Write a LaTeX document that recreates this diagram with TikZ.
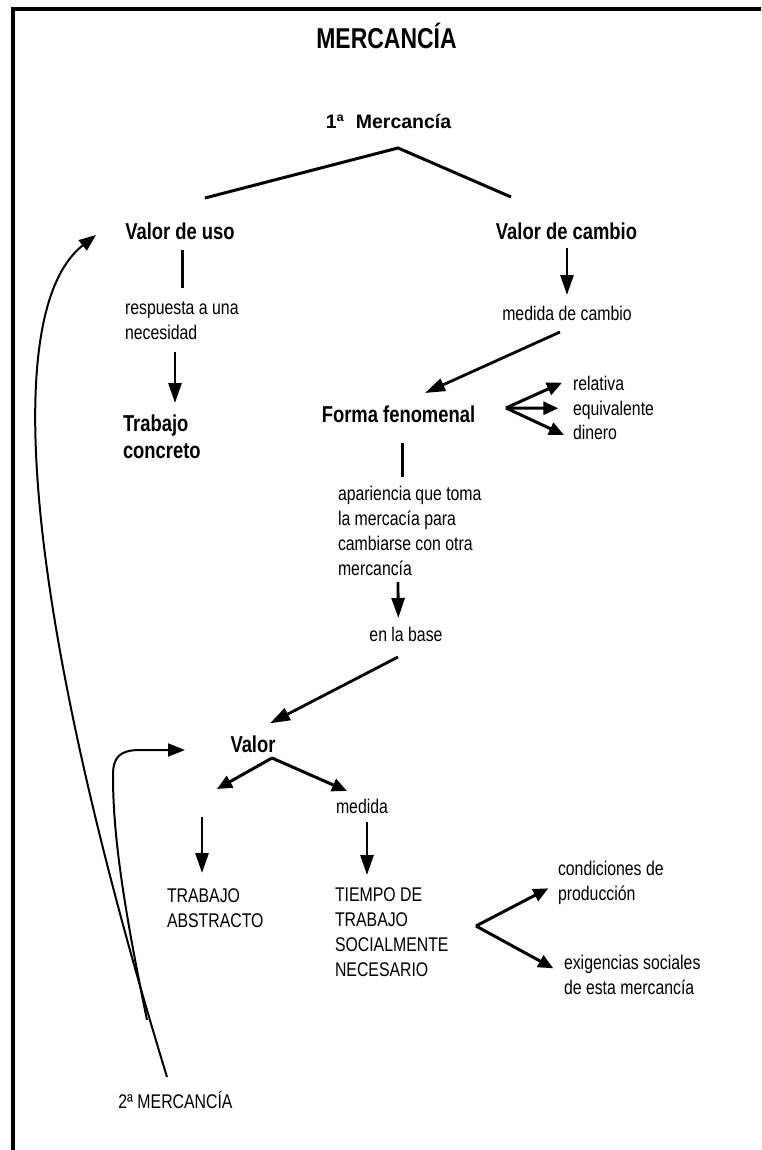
\documentclass[tikz,border=0pt]{standalone}
\usepackage{fontspec}
\setmainfont[FakeStretch=0.8]{Liberation Sans}
\newfontfamily\firstfont{Liberation Sans}
\usetikzlibrary{arrows.meta,positioning,calc}

\begin{document}
\begin{tikzpicture}[x=1pt, y=1pt,
  every node/.style={inner sep=0pt, outer sep=0pt},
  big/.style={anchor=base, font=\fontsize{28.7}{32}\selectfont\bfseries},
  head/.style={anchor=base, font=\fontsize{23}{26.7}\selectfont\bfseries},
  txt/.style={anchor=base, font=\fontsize{19.8}{24.8}\selectfont},
  block/.style={txt, anchor=base west, align=left},
  link/.style={line width=3pt},
  arrow/.style={line width=2.8pt, -{Triangle[length=20pt,width=13pt]}},
  fork/.style={line width=3pt, -{Triangle[length=15pt,width=13pt]}},
  curve/.style={line width=2pt, -{Triangle[length=17pt,width=13pt]}}]
\fill[white] (0,0) rectangle (761,-1150);
\useasboundingbox (0,0) rectangle (761,-1150);
\draw[line width=4.3pt] (12.7,-1150) -- (12.7,-8.8) -- (761,-8.8);

\node[big] (mercancia) at (386.5,-48.3) {MERCANCÍA};
\node[anchor=base, font=\firstfont\fontsize{19.5}{23}\selectfont\bfseries] (m_1) at (388.5,-128.3) {1ª\hspace{12pt}Mercancía};
\node[head] (v_uso) at (180,-239.3) {Valor de uso};
\node[head] (v_cambio) at (566.5,-239.3) {Valor de cambio};
\node[block] (resp) at (125,-339) {respuesta a una\\necesidad};
\node[head, anchor=base west, align=left] (t_concreto) at (123,-458.3) {Trabajo\\concreto};
\node[txt] (med_cambio) at (567,-320) {medida de cambio};
\node[head] (forma) at (398.5,-422.7) {Forma fenomenal};
\node[txt, anchor=base west] (rel) at (573,-390) {relativa};
\node[below=25pt of rel.base west, txt, anchor=base west] (equiv) {equivalente};
\node[below=24.3pt of equiv.base west, txt, anchor=base west] (dinero) {dinero};
\node[block] (apar) at (338,-575) {apariencia que toma\\la mercacía para\\cambiarse con otra\\mercancía};
\node[txt] (en_base) at (406,-641.7) {en la base};
\node[head] (valor) at (253,-752.7) {Valor};
\node[txt] (medida) at (362,-813.3) {medida};
\node[block] (t_abs) at (167,-927.3) {TRABAJO\\ABSTRACTO};
\node[block] (tiempo) at (335,-976) {TIEMPO DE\\TRABAJO\\SOCIALMENTE\\NECESARIO};
\node[block] (cond) at (558,-900.7) {condiciones de\\producción};
\node[block] (exig) at (564,-994) {exigencias sociales\\de esta mercancía};
\node[txt] (m_2) at (175.5,-1108.3) {2ª MERCANCÍA};

\coordinate (split) at ($(m_1.base)+(9.5,-19.7)$);
\coordinate (fan) at ($(forma.base)+(107.5,14.7)$);
\coordinate (v_split) at ($(valor.base)+(19,-5.3)$);
\coordinate (t_split) at ($(tiempo.base west)+(141,50)$);

\draw[link] ($(v_uso.base)+(25,41.3)$) -- (split) -- ($(v_cambio.base)+(-55.5,42.3)$);
\draw[link] ($(v_uso.base)+(2,-10.7)$) -- ($(resp.base west)+(57,51)$);
\draw[arrow] ($(resp.base west)+(50,-13)$) -- ($(t_concreto.base west)+(52,55.3)$);
\draw[arrow] ($(v_cambio.base)+(0.5,-8.7)$) -- ($(med_cambio.base)+(0,25)$);
\draw[arrow] ($(med_cambio.base)+(-7,-12)$) -- ($(forma.base)+(26.5,29.7)$);
\draw[fork] (fan) -- ($(rel.base west)+(-11,7.3)$);
\draw[fork] (fan) -- ($(equiv.base west)+(-14.7,6.7)$);
\draw[fork] (fan) -- ($(dinero.base west)+(-9,4.3)$);
\draw[link] ($(forma.base)+(3.5,-20.3)$) -- ($(apar.base west)+(64,98)$);
\draw[arrow] ($(apar.base west)+(60,-7)$) -- ($(en_base.base)+(-7.7,23.7)$);
\draw[arrow] ($(en_base.base)+(-8,-15.3)$) -- ($(valor.base)+(17,29.4)$);
\draw[fork] (v_split) -- ($(t_abs.base west)+(50,138.3)$);
\draw[fork] (v_split) -- ($(medida.base)+(-15,22.3)$);
\draw[arrow] ($(t_abs.base west)+(35,110.3)$) -- ($(t_abs.base west)+(35,54.3)$);
\draw[arrow] ($(medida.base)+(5,-8.7)$) -- ($(tiempo.base west)+(32,101)$);
\draw[fork] (t_split) -- ($(cond.base west)+(-9.7,12.4)$);
\draw[fork] (t_split) -- ($(exig.base west)+(-10.7,25.7)$);

\draw[curve] ($(m_2.base)+(-8.5,31.3)$) .. controls (21,-599) and (1.4,-309) .. ($(v_uso.base)+(-84,4.3)$);
\draw[curve] ($(m_2.base)+(-28.5,88.3)$) .. controls (118,-880) and (113,-820) .. (113,-775)
  .. controls (113,-757) and (120,-750) .. (140,-750) -- ($(valor.base)+(-68,2.7)$);
\end{tikzpicture}
\end{document}
